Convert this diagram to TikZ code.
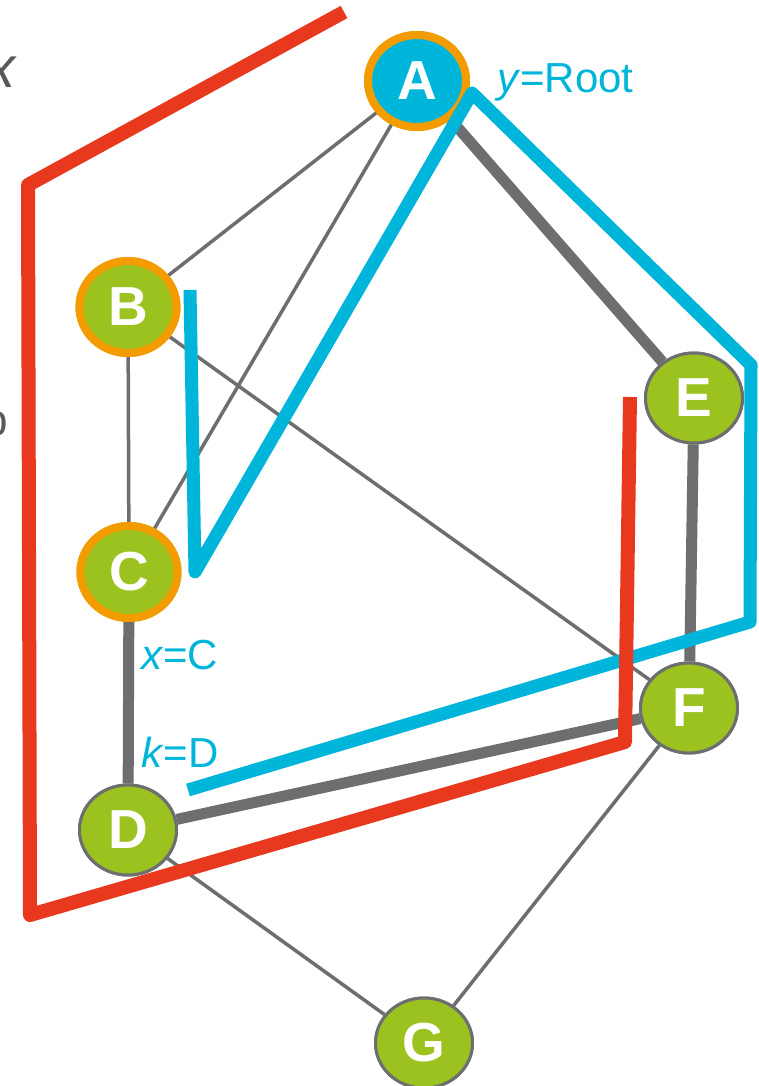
\documentclass[tikz,border=0pt]{standalone}
\usepackage{fontspec}
\setmainfont{Liberation Sans}
\usetikzlibrary{shapes.geometric}
\definecolor{cblue}{HTML}{00B5DA}
\definecolor{cred}{HTML}{E8391F}
\definecolor{corange}{HTML}{F39C00}
\definecolor{cgreen}{HTML}{9BC21F}
\definecolor{cgray}{HTML}{6D6E70}
\definecolor{ctext}{HTML}{58595B}
\tikzset{
  vtx/.style={ellipse, minimum width=97pt, minimum height=90pt, inner sep=0pt,
    fill=cgreen, draw=cgray, line width=3pt, text=white,
    font=\fontsize{55}{55}\selectfont\bfseries},
  ring/.style={draw=corange, line width=8pt, minimum width=97pt, minimum height=92pt},
  thin/.style={cgray, line width=3.5pt},
  thick/.style={cgray, line width=11pt},
  bluepath/.style={cblue, line width=13pt, line join=round},
  redpath/.style={cred, line width=14pt, line join=round},
  lbl/.style={text=cblue, inner sep=0pt, font=\fontsize{42}{42}\selectfont},
  side/.style={text=ctext, inner sep=0pt}
}
\begin{document}
\begin{tikzpicture}[x=1pt,y=-1pt]
\clip (0,0) rectangle (758,1086);
\fill[white] (0,0) rectangle (758,1086);
% nodes (placed first so edges can refer to them)
\node[vtx, ring, fill=cblue, minimum width=98pt] (A) at (417,81) {A};
\node[vtx, ring] (B) at (128,307) {B};
\node[vtx, ring] (C) at (129,572) {C};
\node[vtx] (D) at (128,830) {D};
\node[vtx] (E) at (694,398) {E};
\node[vtx] (F) at (689,708) {F};
\node[vtx] (G) at (424,1043) {G};
% edges
\draw[thin] (A) -- (B);
\draw[thin] (A) -- (C);
\draw[thin] (B) -- (C);
\draw[thin] (B) -- (F);
\draw[thin] (D) -- (G);
\draw[thin] (F) -- (G);
\draw[thick] (A) -- (E);
\draw[thick] (E) -- (F);
\draw[thick] (C) -- (D);
\draw[thick] (D) -- (F);
% redraw nodes on top of the edges
\node[vtx, ring, fill=cblue, minimum width=98pt] at (417,81) {A};
\node[vtx, ring] at (128,307) {B};
\node[vtx, ring] at (129,572) {C};
\node[vtx] at (128,830) {D};
\node[vtx] at (694,398) {E};
\node[vtx] at (689,708) {F};
\node[vtx] at (424,1043) {G};
% paths
\coordinate (b1) at (190,290);
\coordinate (b2) at (195,572);
\coordinate (b3) at (472,93);
\coordinate (b4) at (751,365);
\coordinate (b5) at (750,622);
\coordinate (b6) at (188,790);
\draw[bluepath] (b1) -- (b2) -- (b3) -- (b4) -- (b5) -- (b6);
\coordinate (r1) at (344,12);
\coordinate (r2) at (28,185);
\coordinate (r3) at (30,915);
\coordinate (r4) at (625,742);
\coordinate (r5) at (630,397);
\draw[redpath] (r1) -- (r2) -- (r3) -- (r4) -- (r5);
% labels
\node[lbl, anchor=base west] (ly) at (497,93) {\textit{y}=Root};
\node[lbl, anchor=base west] (lx) at (141,669) {\textit{x}=C};
\node[lbl, anchor=base west] (lk) at (141,767) {\textit{k}=D};
\node[side, anchor=base east, font=\fontsize{58}{58}\selectfont] (sx) at (17,88) {\textit{x}};
\node[side, anchor=base east, font=\fontsize{44}{44}\selectfont] (sp) at (8,435) {p};
\end{tikzpicture}
\end{document}
